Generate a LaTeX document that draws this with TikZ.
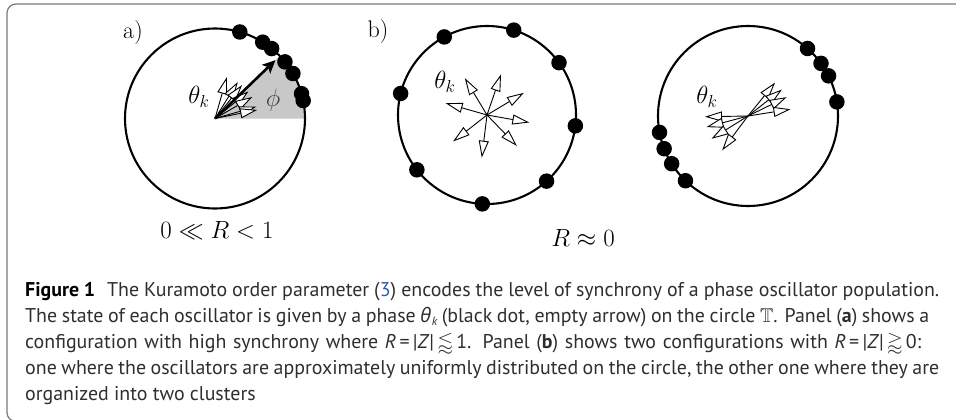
\documentclass[tikz,border=0pt]{standalone}
\usepackage{amssymb}
\usepackage{fontspec}
\newfontfamily\capfont{PT Sans}
\newfontfamily\grkfont{Open Sans}
\usetikzlibrary{arrows.meta}
\definecolor{framegray}{HTML}{7A7A7A}
\definecolor{wedgegray}{HTML}{C8C8C8}
\definecolor{captext}{HTML}{2E2E2E}
\definecolor{linkblue}{HTML}{2A5DB0}
\newcommand{\thk}{{\grkfont\itshape θ}\kern0.5pt\raisebox{-0.2em}{\fontsize{12}{12}\selectfont\itshape k}}
\begin{document}
\begin{tikzpicture}[x=1pt,y=-1pt,
  ring/.style={line width=2.1pt},
  osc/.style={circle,fill=black,inner sep=0pt,minimum size=15.5pt},
  vec/.style={line width=0.9pt,-{Triangle[length=17pt,width=10pt,fill=white,line width=0.9pt]}},
  ord/.style={line width=2.6pt,-{Stealth[length=13pt,width=12pt,inset=3pt]}},
  lbl/.style={font=\fontsize{24}{28}\selectfont,inner sep=0pt},
  capline/.style={anchor=base west,inner sep=0pt,font=\capfont\fontsize{19.9}{24}\selectfont,text=captext}]
\useasboundingbox (0,0) rectangle (956,420);
% frame
\draw[framegray,line width=1.2pt,rounded corners=9pt] (960,4) -- (7,4) -- (7,421.5) -- (60,421.5);

% ---------- panel a ----------
\begin{scope}[shift={(215,118.5)},y=1pt]
  \coordinate (a-c) at (0,0);
  \fill[wedgegray] (a-c) -- (0:90) arc[start angle=0,end angle=44,radius=90] -- cycle;
  \draw[ring] (a-c) circle[radius=90];
  \foreach \i/\a in {1/74,2/58,3/51,4/39,5/30,6/16,7/11.5}{
    \node[osc] (a-d\i) at (\a:90) {};
  }
  \foreach \i/\a in {1/74,2/58,3/51,4/39,5/30,6/16,7/11.5}{
    \coordinate (a-t\i) at (\a:43);
    \draw[vec] (a-c) -- (a-t\i);
  }
  \coordinate (a-z) at (44:84);
  \draw[ord] (a-c) -- (a-z);
\end{scope}
\node[lbl] (la) at (133,33) {a)};
\node[lbl] (tha) at (199,97) {$\theta_k$};
\node[lbl,text=black!75] (phi) at (273,100) {$\phi$};
\node[lbl] (ra) at (217,230) {$0\ll R<1$};

% ---------- panel b, uniform ----------
\begin{scope}[shift={(487,115)},y=1pt]
  \coordinate (b-c) at (0,0);
  \draw[ring] (b-c) circle[radius=89];
  \foreach \i/\a in {1/118.7,2/72.5,3/36,4/-7,5/-48,6/-93,7/-142,8/166}{
    \node[osc] (b-d\i) at (\a:89) {};
  }
  \foreach \i/\a in {1/121,2/71,3/31,4/-10,5/-46,6/-97,7/-142,8/164}{
    \coordinate (b-t\i) at (\a:43);
    \draw[vec] (b-c) -- (b-t\i);
  }
\end{scope}
\node[lbl] (lb) at (378,32) {b)};
\node[lbl] (thb) at (445,82) {$\theta_k$};
\node[lbl] (rb) at (583,238) {$R\approx 0$};

% ---------- panel b, two clusters ----------
\begin{scope}[shift={(748,116)},y=1pt]
  \coordinate (c-c) at (0,0);
  \draw[ring] (c-c) circle[radius=90];
  \foreach \i/\a in {1/48.6,2/35.8,3/26.5,4/9,5/190.5,6/201.3,7/212,8/226}{
    \node[osc] (c-d\i) at (\a:90) {};
  }
  \foreach \i/\a in {1/51,2/38,3/26,4/9,5/181,6/195,7/212,8/233}{
    \coordinate (c-t\i) at (\a:43);
    \draw[vec] (c-c) -- (c-t\i);
  }
\end{scope}
\node[lbl] (thc) at (707,97) {$\theta_k$};

% ---------- caption ----------
\node[capline] (cap1) at (25,296) {\makebox[914pt][s]{{\bfseries\color{black}Figure 1}\hspace{0.6em}The Kuramoto order parameter ({\color{linkblue}3}) encodes the level of synchrony of a phase oscillator population.}};
\node[capline] (cap2) at (25,322) {\makebox[904pt][s]{The state of each oscillator is given by a phase \thk{} (black dot, empty arrow) on the circle $\mathbb{T}$. Panel ({\bfseries a}) shows a}};
\node[capline] (cap3) at (25,348) {\makebox[896pt][s]{configuration with high synchrony where \textit{R}\,=\,|\textit{Z}|\,$\lessapprox$\,1. Panel ({\bfseries b}) shows two configurations with \textit{R}\,=\,|\textit{Z}|\,$\gtrapprox$\,0:}};
\node[capline] (cap4) at (25,374) {\makebox[914pt][s]{one where the oscillators are approximately uniformly distributed on the circle, the other one where they are}};
\node[capline] (cap5) at (25,400) {organized into two clusters};
\end{tikzpicture}
\end{document}
